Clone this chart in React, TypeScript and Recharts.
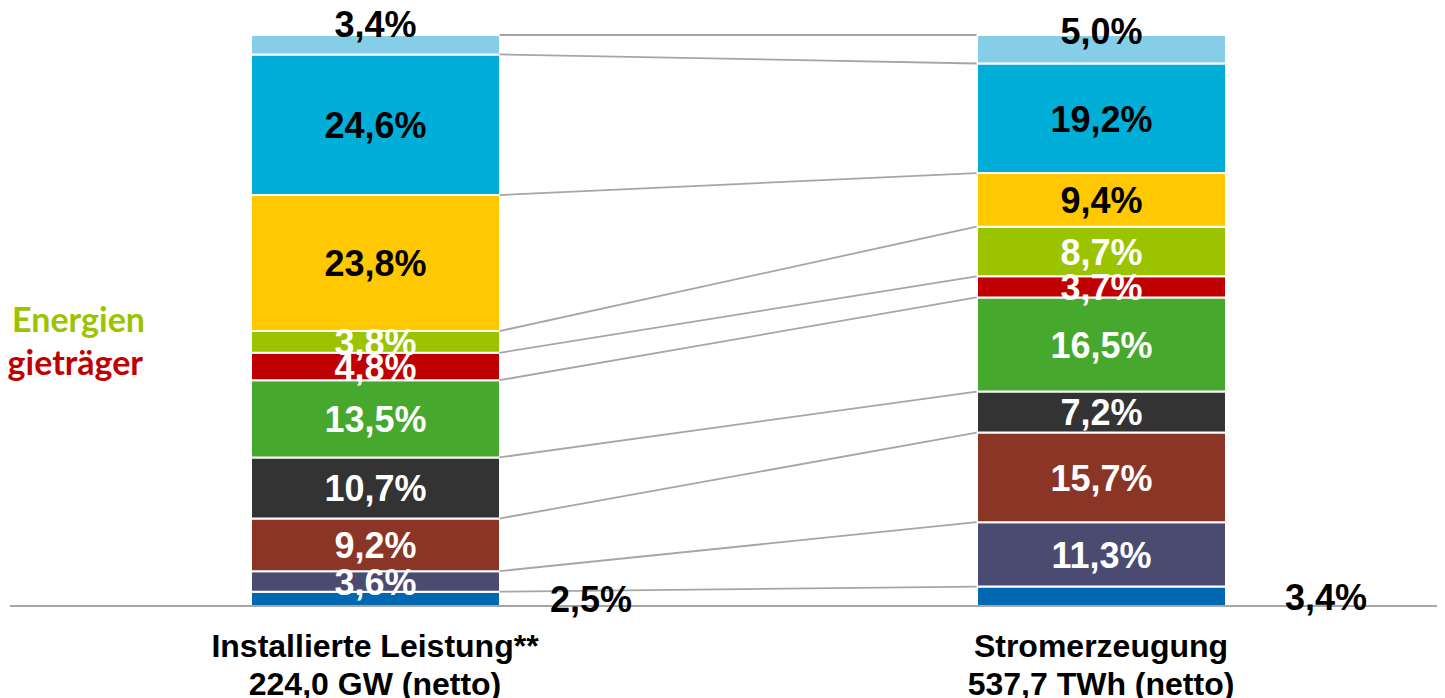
import { BarChart, Bar, XAxis, YAxis, LabelList, ReferenceLine, Customized } from 'recharts'

const categories = ['Installierte Leistung**', 'Stromerzeugung']
const subtitles = ['224,0 GW (netto)', '537,7 TWh (netto)']

// segments bottom -> top
const seriesKeys = ['s0', 's1', 's2', 's3', 's4', 's5', 's6', 's7', 's8', 's9']
const leistung = [2.5, 3.6, 9.2, 10.7, 13.5, 4.8, 3.8, 23.8, 24.6, 3.4]
const erzeugung = [3.4, 11.3, 15.7, 7.2, 16.5, 3.7, 8.7, 9.4, 19.2, 5.0]

const COLORS = ['#0068B0', '#4B4B72', '#8A3526', '#333333', '#46A82C', '#C00000', '#9BC300', '#FFC800', '#00AED8', '#86CEE8']
const DARK_LABEL = [false, false, false, false, false, false, false, true, true, true]

const sideLabels = [
  { text: 'Erneuerbare Energien', color: '#9BC300' },
  { text: 'Konventionelle Energieträger', color: '#C00000' },
]

const fmt = (v: number) => v.toFixed(1).replace('.', ',') + '%'

const data = categories.map((name, ci) => {
  const vals = ci === 0 ? leistung : erzeugung
  const row: Record<string, any> = { name }
  seriesKeys.forEach((k, i) => (row[k] = vals[i]))
  return row
})

// cumulative top edge of each segment, as a share of the bar total
const cumShares = (vals: number[]) => {
  const total = vals.reduce((a, b) => a + b, 0)
  let acc = 0
  return vals.map((v) => {
    acc += v
    return acc / total
  })
}
const leftTops = cumShares(leistung)
const rightTops = cumShares(erzeugung)

const BAR = 249
const HALF = BAR / 2
const FONT = '"Liberation Sans", Arial, sans-serif'

function CategoryTick(props: any) {
  const { x, y, payload } = props
  const i = payload.index
  return (
    <g>
      <text x={x} y={y + 43} textAnchor="middle" fontFamily={FONT} fontWeight="bold" fontSize={32} fill="#000">
        {categories[i]}
      </text>
      <text x={x} y={y + 81} textAnchor="middle" fontFamily={FONT} fontWeight="bold" fontSize={32} fill="#000">
        {subtitles[i]}
      </text>
    </g>
  )
}

function makeLabel(si: number) {
  return (props: any) => {
    const { x, y, width, height, value, index } = props
    let cx = x + width / 2
    let cy = y + height / 2
    let fill = DARK_LABEL[si] ? '#000' : '#fff'
    if (si === 0) {
      cx = x + width + (index === 0 ? 91 : 100)
      fill = '#000'
    }
    if (si === seriesKeys.length - 1) {
      cy = y + (index === 0 ? -11 : -4)
    }
    return (
      <text x={cx} y={cy} dy="0.37em" textAnchor="middle" fontFamily={FONT} fontWeight="bold" fontSize={36} fill={fill}>
        {fmt(value)}
      </text>
    )
  }
}

const connector = (props: any) => {
  const { x1, y1, x2, y2 } = props
  return <line x1={x1 + HALF} y1={y1} x2={x2 - HALF} y2={y2} stroke="#A6A6A6" strokeWidth={1.8} />
}

function SideText() {
  return (
    <g>
      <text x={145} y={312} dy="0.36em" textAnchor="end" fontFamily="Lato, sans-serif" fontWeight="bold" fontSize={34} fill={sideLabels[0].color}>
        {sideLabels[0].text}
      </text>
      <text x={143} y={355} dy="0.36em" textAnchor="end" fontFamily="Lato, sans-serif" fontWeight="bold" fontSize={34} fill={sideLabels[1].color}>
        {sideLabels[1].text}
      </text>
    </g>
  )
}

export default function App() {
  return (
    <div style={{ marginLeft: -8, width: 1445, height: 690, overflow: 'hidden', position: 'relative' }}>
      <BarChart
        width={1464}
        height={690}
        data={data}
        stackOffset="expand"
        margin={{ top: 27, right: 0, bottom: 0, left: 10 }}
        barSize={BAR}
      >
        <XAxis
          dataKey="name"
          padding={{ left: 2, right: 0 }}
          height={92}
          tickLine={false}
          axisLine={{ stroke: '#A6A6A6', strokeWidth: 2 }}
          tick={<CategoryTick />}
          interval={0}
        />
        <YAxis type="number" domain={[0, 1]} hide />
        {seriesKeys.map((k, si) => (
          <Bar key={k} dataKey={k} stackId="a" fill={COLORS[si]} stroke="#fff" strokeWidth={2} isAnimationActive={false}>
            <LabelList dataKey={k} content={makeLabel(si)} />
          </Bar>
        ))}
        {leftTops.map((t, i) => (
          <ReferenceLine
            key={'c' + i}
            ifOverflow="visible"
            segment={[
              { x: categories[0], y: t },
              { x: categories[1], y: rightTops[i] },
            ]}
            shape={connector}
          />
        ))}
        <Customized component={SideText} />
      </BarChart>
    </div>
  )
}
